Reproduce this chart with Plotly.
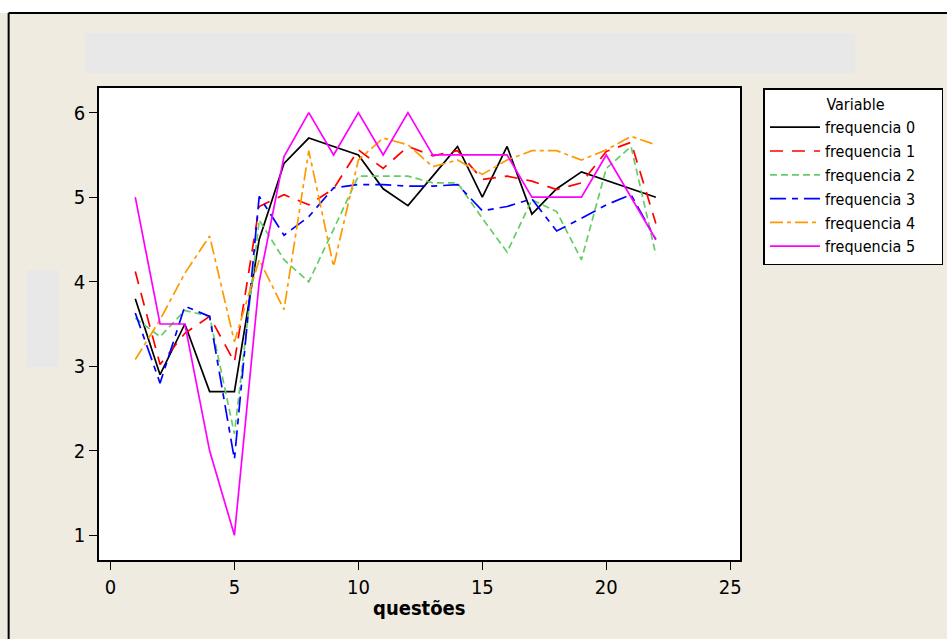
import plotly.graph_objects as go

questoes = list(range(1, 23))
freq0 = [3.8, 2.9, 3.5, 2.7, 2.7, 4.5, 5.4, 5.7, 5.6, 5.5, 5.1, 4.9, 5.25, 5.6, 5.0, 5.6, 4.8, 5.1, 5.3, 5.2, 5.1, 5.0]
freq1 = [4.12, 3.02, 3.39, 3.59, 3.05, 4.89, 5.03, 4.91, 5.1, 5.56, 5.34, 5.6, 5.49, 5.55, 5.21, 5.25, 5.19, 5.09, 5.17, 5.54, 5.65, 4.69]
freq2 = [3.57, 3.35, 3.66, 3.59, 2.2, 4.73, 4.26, 4.0, 4.62, 5.25, 5.25, 5.25, 5.17, 5.17, 4.75, 4.35, 4.97, 4.83, 4.26, 5.34, 5.6, 4.32]
freq3 = [3.63, 2.8, 3.71, 3.59, 1.9, 5.01, 4.55, 4.77, 5.11, 5.15, 5.15, 5.13, 5.13, 5.15, 4.84, 4.89, 4.98, 4.6, 4.75, 4.91, 5.03, 4.5]
freq4 = [3.08, 3.55, 4.1, 4.54, 3.29, 4.26, 3.67, 5.55, 4.18, 5.44, 5.7, 5.62, 5.36, 5.44, 5.27, 5.44, 5.55, 5.55, 5.44, 5.56, 5.72, 5.62]
freq5 = [5.0, 3.5, 3.5, 2.0, 1.0, 4.0, 5.48, 6.0, 5.5, 6.0, 5.5, 6.0, 5.5, 5.5, 5.5, 5.5, 5.0, 5.0, 5.0, 5.5, 5.0, 4.5]

names = ["frequencia 0", "frequencia 1", "frequencia 2", "frequencia 3", "frequencia 4", "frequencia 5"]
series = [freq0, freq1, freq2, freq3, freq4, freq5]
colors = ["#000000", "#FF0000", "#66CC66", "#0000FF", "#FF9900", "#FF00FF"]
dashes = ["solid", "13px,9px", "7px,4px", "16px,6px,6px,6px", "13px,4px,4px,4px", "solid"]

fig = go.Figure()
for n, s, c, d in zip(names, series, colors, dashes):
    fig.add_trace(go.Scatter(x=questoes, y=s, mode="lines", name=n,
                             line=dict(color=c, width=1.7, dash=d)))

W, H = 947, 639
L, R, T, B = 98.5, 740.5, 88, 560
pw, ph = R - L, B - T

def px(x):
    return (x - L) / pw

def py(y):
    return (B - y) / ph

shapes = [
    dict(type="rect", xref="paper", yref="paper", x0=px(-5), x1=px(W + 5), y0=py(13), y1=py(-5),
         fillcolor="white", line=dict(width=0), layer="below"),
    dict(type="line", xref="paper", yref="paper", x0=px(8), x1=px(W + 5), y0=py(13), y1=py(13),
         line=dict(color="black", width=2)),
    dict(type="line", xref="paper", yref="paper", x0=px(8), x1=px(8), y0=py(13), y1=py(H + 5),
         line=dict(color="black", width=2)),
    dict(type="rect", xref="paper", yref="paper", x0=px(84), x1=px(856), y0=py(73), y1=py(33),
         fillcolor="#E8E8E8", line=dict(width=0), layer="below"),
    dict(type="rect", xref="paper", yref="paper", x0=px(26), x1=px(58), y0=py(367), y1=py(270),
         fillcolor="#E8E8E8", line=dict(width=0), layer="below"),
]

font_fam = "DejaVu Sans Condensed, DejaVu Sans, Verdana, sans-serif"
sp = "&nbsp;"

fig.update_layout(
    width=W, height=H,
    margin=dict(l=L, r=W - R, t=T, b=H - B, pad=0, autoexpand=False),
    paper_bgcolor="#EFEBE1",
    plot_bgcolor="white",
    font=dict(family=font_fam, color="black", size=16),
    showlegend=True,
    legend=dict(
        x=px(764), y=1.0, xanchor="left", yanchor="top",
        bgcolor="white", bordercolor="black", borderwidth=1.5,
        font=dict(family=font_fam, size=16, color="black"),
        title=dict(text=sp * 13 + "Variable" + sp * 12, font=dict(family=font_fam, size=16)),
        itemwidth=50,
        tracegroupgap=0,
    ),
    shapes=shapes,
    annotations=[dict(text="<b>questões</b>", xref="paper", yref="paper",
                      x=0.5, y=py(608), xanchor="center", yanchor="middle",
                      showarrow=False, font=dict(size=20, family=font_fam))],
    xaxis=dict(
        range=[-0.463, 25.395], tickvals=[0, 5, 10, 15, 20, 25],
        showgrid=False, zeroline=False,
        showline=True, linecolor="black", linewidth=1.5, mirror=True,
        ticks="outside", ticklen=8, tickcolor="black", tickwidth=1,
        tickfont=dict(size=20),
    ),
    yaxis=dict(
        range=[0.708, 6.292], tickvals=[1, 2, 3, 4, 5, 6],
        showgrid=False, zeroline=False,
        showline=True, linecolor="black", linewidth=1.5, mirror=True,
        ticks="outside", ticklen=8, tickcolor="black", tickwidth=1,
        tickfont=dict(size=20),
    ),
)

fig.write_html("out.html", config={"displayModeBar": False},
               post_script="document.body.style.margin='0px';")
